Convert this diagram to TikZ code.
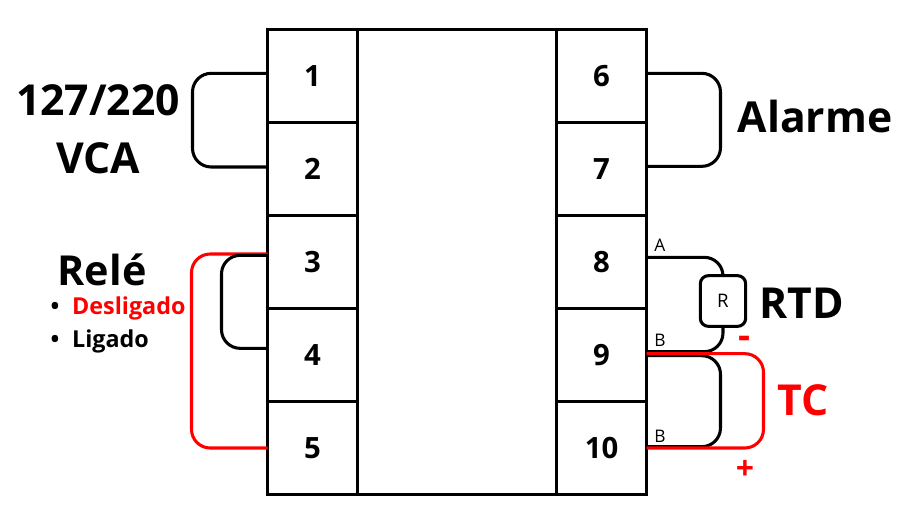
\documentclass[tikz,border=0pt]{standalone}
\usepackage{fontspec}
\setmainfont{Open Sans}
\usepackage{xcolor}
\usetikzlibrary{positioning}
\definecolor{wirered}{RGB}{255, 0, 0}
\tikzstyle{term} = [rectangle, draw=black, line width=2.3pt, outer sep=0pt, minimum width=67.5pt, minimum height=69.75pt, font=\bfseries\fontsize{22}{24}\selectfont, text=black]
\tikzstyle{body} = [rectangle, draw=black, line width=2.3pt, outer sep=0pt, minimum width=149.25pt, minimum height=348.75pt, anchor=north west]
\tikzstyle{biglabel} = [draw=none, fill=none, font=\bfseries\fontsize{32}{36}\selectfont, align=center]
\tikzstyle{pinlabel} = [draw=none, fill=none, font=\fontsize{13}{14}\selectfont, inner sep=0pt]
\tikzstyle{wire} = [draw, line width=2.3pt, rounded corners=14pt]
\tikzstyle{rwire} = [draw=wirered, line width=2.3pt, rounded corners=14pt]

\begin{document}
\begin{tikzpicture}[x=0.75pt, y=-0.75pt]
\useasboundingbox (0,0) rectangle (908,518);

% terminals =============================
\node[term] (t1) at (312.5,76) {1};
\node[term, below=0pt of t1] (t2) {2};
\node[term, below=0pt of t2] (t3) {3};
\node[term, below=0pt of t3] (t4) {4};
\node[term, below=0pt of t4] (t5) {5};
\node[body] (mid) at (t1.north east) {};
\node[term, right=0pt of mid.north east, anchor=north west] (t6) {6};
\node[term, below=0pt of t6] (t7) {7};
\node[term, below=0pt of t7] (t8) {8};
\node[term, below=0pt of t8] (t9) {9};
\node[term, below=0pt of t9] (t10) {10};

% labels
\node[biglabel, font=\bfseries\fontsize{32}{43.5}\selectfont] (vca) at (98,129) {127/220\\VCA};
\node[biglabel, anchor=west] (alarme) at (733,116) {Alarme};
\node[biglabel, font=\bfseries\fontsize{31}{34}\selectfont, anchor=west] (rele) at (53,270) {Relé};
\node[draw=none, anchor=west, font=\bfseries\fontsize{17.5}{19}\selectfont, text=wirered] (desl) at (46,308) {\textcolor{black}{\textbullet}\hspace{9.5pt}Desligado};
\node[draw=none, anchor=west, font=\bfseries\fontsize{17.5}{19}\selectfont] (lig) at (46,341) {\textbullet\hspace{9.5pt}Ligado};
\node[rectangle, draw=black, line width=2.3pt, rounded corners=6pt, minimum width=34pt, minimum height=38pt, font=\fontsize{14}{16}\selectfont] (rtd) at (723,301) {R};
\node[biglabel, anchor=west] (rtdtxt) at (755,303) {RTD};
\node[biglabel, text=wirered, anchor=west] (tc) at (773,400) {TC};
\node[biglabel, text=wirered, font=\bfseries\fontsize{28}{30}\selectfont] (minus) at (745,342) {-};
\node[biglabel, text=wirered, font=\bfseries\fontsize{24}{26}\selectfont] (plus) at (745,470) {+};
\node[pinlabel, anchor=south west] (pa) at (654,252) {A};
\node[pinlabel, anchor=south west] (pb9) at (654,347) {B};
\node[pinlabel, anchor=south west] (pb10) at (654,443) {B};

% connection points
\coordinate (w1) at ([yshift=2pt]t1.west);
\coordinate (w2) at ([yshift=1.5pt]t2.west);
\coordinate (r3) at ([yshift=6pt]t3.west);
\coordinate (b3) at ([yshift=5pt]t3.west);
\coordinate (b4) at ([yshift=5pt]t4.west);
\coordinate (r5) at (t5.west);
\coordinate (w6) at ([yshift=2pt]t6.east);
\coordinate (w7) at ([yshift=2pt]t7.east);
\coordinate (a8) at ([yshift=3.5pt]t8.east);
\coordinate (b9) at ([yshift=2.5pt]t9.east);
\coordinate (k9) at ([yshift=-0.5pt]t9.east);
\coordinate (r9) at ([yshift=1pt]t9.east);
\coordinate (k10) at ([yshift=1pt]t10.east);
\coordinate (r10) at (t10.east);

% edges
\path[wire] (w1) -- ++(-75,0) |- (w2);
\path[rwire] (r3) -- ++(-76,0) |- (r5);
\path[wire] (b3) -- ++(-46,0) |- (b4);
\path[wire] (w6) -- ++(74,0) |- (w7);
\path[wire] (a8) -| (rtd.north);
\path[wire] (rtd.south) |- (b9);
\path[wire] (k9) -- ++(74,0) |- (k10);
\path[rwire] (r9) -- ++(117,0) |- (r10);

\end{tikzpicture}
\end{document}
